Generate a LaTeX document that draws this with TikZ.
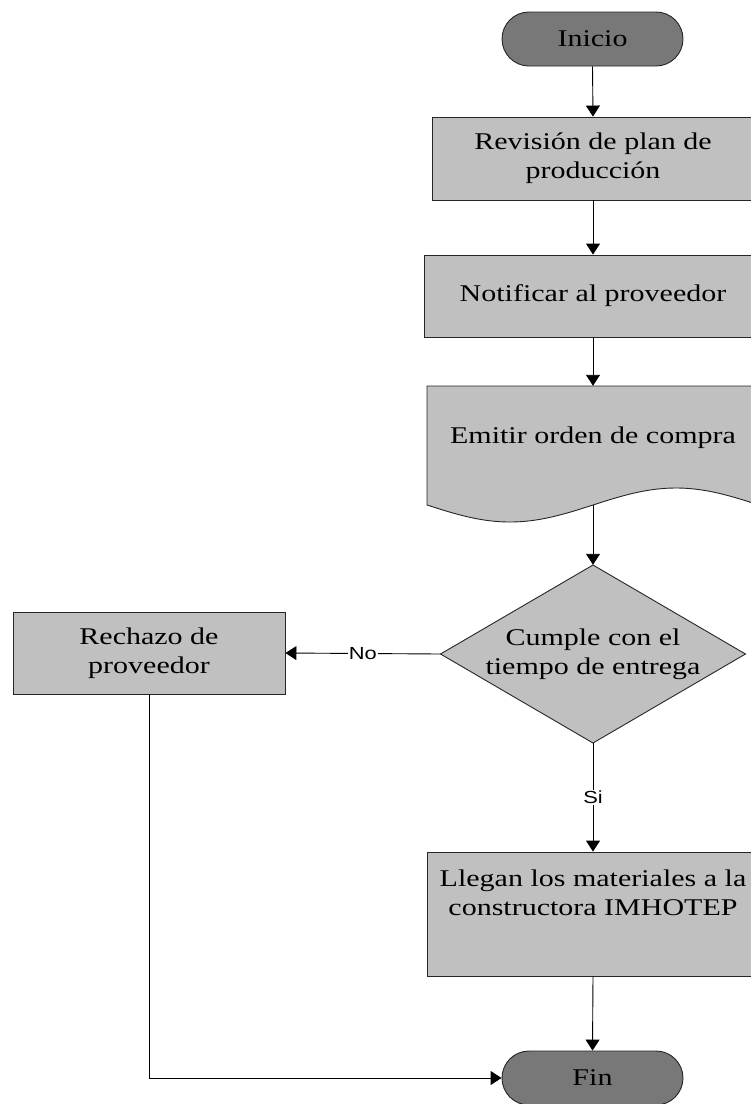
\documentclass[tikz,border=0pt]{standalone}
\usepackage{fontspec}
\setmainfont{Liberation Serif}[FakeStretch=1.25]
\newfontfamily\tagfont{Liberation Sans}[FakeStretch=1.25]
\usetikzlibrary{arrows.meta}
\definecolor{boxgray}{RGB}{192,192,192}
\definecolor{termgray}{RGB}{120,120,120}
\begin{document}
\begin{tikzpicture}[x=1pt,y=-1pt,
  every node/.style={font=\fontsize{24}{29}\selectfont, align=center},
  outline/.style={draw=black!85, line width=0.9pt, fill=boxgray},
  proc/.style={outline, inner sep=0pt},
  term/.style={draw=black!85, line width=0.9pt, fill=termgray, rounded corners=27pt,
    minimum width=181pt, minimum height=54pt, inner sep=0pt},
  flow/.style={line width=0.9pt, -{Triangle[width=14pt,length=11pt]}},
  tag/.style={fill=white, inner sep=1pt, font=\tagfont\fontsize{17.5}{20}\selectfont}
]
\clip (0,0) rectangle (751,1104);

% start / end terminators
\node[term] (ini) at (592.5,39) {Inicio};
\node[term] (fin) at (592.5,1078) {Fin};

% process boxes
\node[proc, minimum width=322pt, minimum height=83pt] (rev) at (593,158.5)
  {Revisión de plan de\\producción};
\node[proc, minimum width=338pt, minimum height=82pt] (notif) at (593,296)
  {Notificar al proveedor};

% document shape with wavy lower edge
\draw[outline] (427,505) -- (427,386) -- (759,386) -- (759,505)
  -- plot[domain=759:427, samples=80] (\x, {505+17*sin((\x-427)/332*360)}) -- cycle;
\node[minimum width=332pt, minimum height=119pt, inner sep=0pt] (emit) at (593,445.5) {};
\node at ([yshift=7.5pt]emit.center) {Emitir orden de compra};

% decision
\draw[outline] (593,565) -- (745.5,654) -- (593,743) -- (440.5,654) -- cycle;
\node[minimum width=305pt, minimum height=178pt, inner sep=0pt] (dec) at (593,654)
  {Cumple con el\\tiempo de entrega};

\node[proc, minimum width=272pt, minimum height=82pt] (rech) at (149,653)
  {Rechazo de\\proveedor};
\node[proc, minimum width=332pt, minimum height=124pt] (lleg) at (593,914) {};
\node at ([yshift=21pt]lleg.center) {Llegan los materiales a la\\constructora IMHOTEP};

% connectors
\draw[flow] (ini.south) -- (rev.north);
\draw[flow] (rev.south) -- (notif.north);
\draw[flow] (notif.south) -- (emit.north);
\draw[flow] (emit.south) -- (dec.north);
\draw[flow] (dec.west) -- node[tag] {No} (rech.east);
\draw[flow] (dec.south) -- node[tag] {Si} (lleg.north);
\draw[flow] (lleg.south) -- (fin.north);
\draw[flow] (rech.south) |- (fin.west);
\end{tikzpicture}
\end{document}
